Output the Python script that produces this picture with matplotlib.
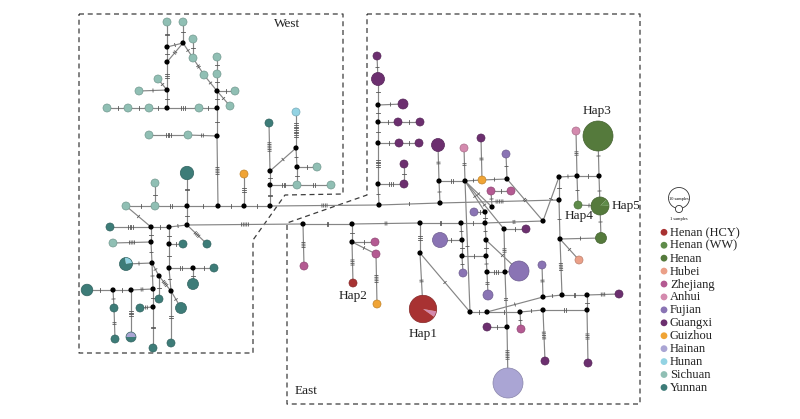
import numpy as np
import matplotlib.pyplot as plt
from matplotlib.patches import Circle, Wedge
from matplotlib.colors import to_rgb

plt.rcParams['font.family'] = ['Liberation Serif', 'DejaVu Serif']

# region colours (legend order)
legend_keys = ['HCY', 'WW', 'Henan', 'Hubei', 'Zhejiang', 'Anhui', 'Fujian',
               'Guangxi', 'Guizhou', 'Hainan', 'Hunan', 'Sichuan', 'Yunnan']
legend_names = ['Henan (HCY)', 'Henan (WW)', 'Henan', 'Hubei', 'Zhejiang', 'Anhui',
                'Fujian', 'Guangxi', 'Guizhou', 'Hainan', 'Hunan', 'Sichuan', 'Yunnan']
group_colors = {'HCY': '#a83232', 'WW': '#5f8c4a', 'Henan': '#557a3c', 'Hubei': '#eba088',
                'Zhejiang': '#b45a92', 'Anhui': '#d48aae', 'Fujian': '#8a74b4',
                'Guangxi': '#6c2f6f', 'Guizhou': '#f0a435', 'Hainan': '#aaa5d4',
                'Hunan': '#93d3e3', 'Sichuan': '#90bfb4', 'Yunnan': '#3d7c78'}

# haplotypes: id, x, y, radius, region (positions as laid out in the network)
west_haps = [
    ('w1', 167, 22, 4, 'Sichuan'), ('w2', 183, 22, 4, 'Sichuan'), ('w3', 193, 39, 4, 'Sichuan'),
    ('w4', 193, 58, 4, 'Sichuan'), ('w5', 217, 57, 4, 'Sichuan'), ('w6', 204, 75, 4, 'Sichuan'),
    ('w7', 217, 74, 4, 'Sichuan'), ('w8', 158, 79, 4, 'Sichuan'), ('w9', 139, 91, 4, 'Sichuan'),
    ('w10', 235, 91, 4, 'Sichuan'), ('w11', 230, 106, 4, 'Sichuan'), ('w12', 107, 108, 4, 'Sichuan'),
    ('w13', 128, 108, 4, 'Sichuan'), ('w14', 149, 108, 4, 'Sichuan'), ('w15', 199, 108, 4, 'Sichuan'),
    ('w16', 149, 135, 4, 'Sichuan'), ('w17', 188, 135, 4, 'Sichuan'), ('w18', 317, 167, 4, 'Sichuan'),
    ('w19', 297, 185, 4, 'Sichuan'), ('w20', 331, 185, 4, 'Sichuan'), ('w21', 296, 112, 4, 'Hunan'),
    ('w22', 269, 123, 4, 'Yunnan'), ('w23', 187, 173, 6.7, 'Yunnan'), ('w24', 244, 174, 4, 'Guizhou'),
    ('w25', 155, 183, 4, 'Sichuan'), ('w26', 126, 206, 4, 'Sichuan'), ('w27', 155, 206, 4, 'Sichuan'),
    ('w28', 110, 227, 4, 'Yunnan'), ('w29', 207, 244, 4, 'Yunnan'), ('w30', 113, 243, 4, 'Sichuan'),
    ('w31', 183, 244, 4, 'Yunnan'), ('w32', 126, 264, 6.5, 'Yunnan'), ('w33', 214, 268, 4, 'Yunnan'),
    ('w34', 193, 284, 5.5, 'Yunnan'), ('w35', 87, 290, 5.8, 'Yunnan'), ('w36', 181, 308, 5.5, 'Yunnan'),
    ('w37', 114, 308, 4, 'Yunnan'), ('w38', 140, 308, 4, 'Yunnan'), ('w39', 159, 299, 4, 'Yunnan'),
    ('w40', 115, 339, 4, 'Yunnan'), ('w41', 131, 337, 5, 'Yunnan'), ('w42', 153, 348, 4, 'Yunnan'),
    ('w43', 171, 343, 4, 'Yunnan'),
]
east_haps = [
    ('e1', 377, 56, 4, 'Guangxi'), ('e2', 378, 79, 6.5, 'Guangxi'), ('e3', 403, 104, 5, 'Guangxi'),
    ('e4', 398, 122, 4, 'Guangxi'), ('e5', 420, 122, 4, 'Guangxi'), ('e6', 399, 143, 4, 'Guangxi'),
    ('e7', 419, 143, 4, 'Guangxi'), ('e8', 404, 164, 4, 'Guangxi'), ('e9', 404, 184, 4, 'Guangxi'),
    ('e10', 438, 145, 6.5, 'Guangxi'), ('e11', 464, 148, 4, 'Anhui'), ('e12', 481, 138, 4, 'Guangxi'),
    ('e13', 506, 154, 4, 'Fujian'), ('e14', 482, 180, 4, 'Guizhou'), ('e15', 491, 191, 4, 'Zhejiang'),
    ('e16', 511, 191, 4, 'Zhejiang'), ('e17', 474, 212, 4, 'Fujian'), ('e18', 526, 229, 4, 'Guangxi'),
    ('e19', 440, 240, 7.5, 'Fujian'), ('e20', 463, 273, 4, 'Fujian'), ('e21', 519, 271, 10, 'Fujian'),
    ('e22', 542, 265, 4, 'Fujian'), ('e23', 488, 295, 5, 'Fujian'), ('e24', 423, 309, 13.7, 'HCY'),
    ('e25', 487, 327, 4, 'Guangxi'), ('e26', 521, 329, 4, 'Zhejiang'), ('e27', 508, 383, 15, 'Hainan'),
    ('e28', 545, 361, 4, 'Guangxi'), ('e29', 588, 363, 4, 'Guangxi'), ('e30', 619, 294, 4, 'Guangxi'),
    ('e31', 576, 131, 4, 'Anhui'), ('e32', 598, 136, 15, 'Henan'), ('e33', 578, 205, 4, 'WW'),
    ('e34', 600, 206, 9, 'Henan'), ('e35', 601, 238, 5.5, 'Henan'), ('e36', 579, 260, 4, 'Hubei'),
    ('e37', 304, 266, 4, 'Zhejiang'), ('e38', 375, 242, 4, 'Zhejiang'), ('e39', 376, 254, 4, 'Zhejiang'),
    ('e40', 353, 283, 4, 'HCY'), ('e41', 377, 304, 4, 'Guizhou'),
]
# mixed haplotypes: (region, share), start angle in degrees (clockwise from east)
pie_parts = {
    'w32': [('Hunan', 0.25), ('Yunnan', 0.75)],
    'w41': [('Hainan', 0.5), ('Yunnan', 0.5)],
    'e24': [('Anhui', 0.07), ('HCY', 0.93)],
    'e34': [('WW', 0.12), ('Henan', 0.88)],
}
pie_start = {'w32': -100, 'w41': 180, 'e24': 10, 'e34': -45}

median_vectors = [
    ('m1', 167, 47), ('m2', 183, 43), ('m3', 167, 62), ('m4', 167, 90), ('m5', 217, 91),
    ('m6', 167, 108), ('m7', 217, 108), ('m8', 217, 136), ('m9', 296, 148), ('m10', 270, 171),
    ('m11', 297, 167), ('m12', 270, 185), ('m13', 187, 206), ('m14', 218, 206), ('m15', 244, 206),
    ('m16', 270, 206), ('m17', 151, 227), ('m18', 169, 227), ('m19', 187, 225), ('m20', 151, 242),
    ('m21', 169, 244), ('m22', 152, 263), ('m23', 169, 268), ('m24', 193, 268), ('m25', 159, 276),
    ('m26', 113, 290), ('m27', 131, 290), ('m28', 153, 289), ('m29', 171, 291), ('m30', 153, 307),
    ('n1', 378, 105), ('n2', 378, 122), ('n3', 378, 143), ('n4', 378, 184), ('n5', 379, 205),
    ('n6', 439, 181), ('n7', 465, 181), ('n8', 507, 179), ('n9', 440, 203), ('n10', 492, 207),
    ('n11', 485, 212), ('n12', 543, 221), ('n13', 559, 177), ('n14', 577, 176), ('n15', 599, 176),
    ('n16', 559, 200), ('n17', 303, 224), ('n18', 352, 224), ('n19', 420, 223), ('n20', 461, 223),
    ('n21', 485, 223), ('n22', 504, 229), ('n23', 352, 242), ('n24', 462, 240), ('n25', 486, 240),
    ('n26', 420, 253), ('n27', 462, 256), ('n28', 486, 256), ('n29', 560, 239), ('n30', 487, 272),
    ('n31', 505, 272), ('n32', 543, 297), ('n33', 562, 295), ('n34', 587, 295), ('n35', 470, 312),
    ('n36', 487, 312), ('n37', 520, 312), ('n38', 543, 310), ('n39', 587, 310), ('n40', 507, 327),
]

# links: node, node, number of mutation ticks
edges = [
    ('w1', 'm1', 2), ('m1', 'm3', 1), ('m3', 'm4', 3), ('m4', 'm6', 1), ('w2', 'm2', 1),
    ('m1', 'm2', 1), ('m2', 'm3', 2), ('m2', 'w4', 1), ('w3', 'w4', 1), ('w4', 'w6', 2),
    ('w6', 'm5', 1), ('m5', 'w11', 1), ('w5', 'w7', 1), ('w7', 'm5', 1), ('m5', 'w10', 1),
    ('m5', 'm7', 1), ('m7', 'm8', 1), ('m8', 'm14', 5), ('w8', 'm4', 1), ('w9', 'm4', 1),
    ('w12', 'w13', 1), ('w13', 'w14', 1), ('w14', 'm6', 1), ('m6', 'w15', 3), ('w15', 'm7', 1),
    ('w16', 'w17', 4), ('w17', 'm8', 2), ('w21', 'm9', 9), ('m9', 'm10', 1), ('m9', 'm11', 1),
    ('m11', 'w18', 1), ('m11', 'w19', 1), ('w22', 'm10', 6), ('m10', 'm12', 1), ('m12', 'm16', 2),
    ('m12', 'w19', 3), ('w19', 'w20', 2), ('w23', 'm13', 2), ('w24', 'm15', 3), ('w25', 'w27', 1),
    ('w26', 'w27', 1), ('w27', 'm13', 2), ('m13', 'm14', 1), ('m14', 'm15', 1), ('m15', 'm16', 1),
    ('m16', 'n5', 4), ('w26', 'm17', 1), ('w28', 'm17', 4), ('m17', 'm18', 1), ('m18', 'm19', 1),
    ('m19', 'n17', 5), ('m13', 'm19', 1), ('m19', 'w29', 4), ('w30', 'm20', 4), ('m17', 'm20', 1),
    ('m20', 'm22', 1), ('m22', 'm28', 1), ('m28', 'm30', 1), ('m30', 'w42', 2), ('m18', 'm21', 1),
    ('m21', 'w31', 1), ('m21', 'm23', 1), ('m23', 'm29', 1), ('m29', 'w43', 2), ('m23', 'm24', 2),
    ('m24', 'w33', 1), ('m24', 'w34', 1), ('w32', 'm22', 1), ('m22', 'm25', 1), ('m25', 'm29', 4),
    ('m29', 'w36', 1), ('m25', 'w39', 1), ('w35', 'm26', 1), ('m26', 'm27', 1), ('m27', 'm28', 2),
    ('m26', 'w37', 1), ('w37', 'w40', 2), ('m27', 'w41', 4), ('w38', 'm30', 2),
    ('e1', 'e2', 1), ('e2', 'n1', 1), ('n1', 'n2', 1), ('n2', 'n3', 1), ('n3', 'n4', 5),
    ('n4', 'n5', 1), ('n1', 'e3', 1), ('n2', 'e4', 1), ('e4', 'e5', 1), ('n3', 'e6', 1),
    ('e6', 'e7', 1), ('e8', 'e9', 1), ('n4', 'e9', 3), ('n5', 'n9', 1), ('n9', 'n16', 5),
    ('e10', 'n6', 2), ('n6', 'n9', 1), ('n6', 'n7', 2), ('e11', 'n7', 2), ('n7', 'e14', 1),
    ('e14', 'n8', 1), ('e12', 'e14', 2), ('e13', 'n8', 1), ('n7', 'n35', 1), ('n7', 'n10', 1),
    ('n7', 'n11', 1), ('n7', 'n22', 1), ('n10', 'e15', 1), ('e15', 'e16', 1), ('n8', 'n12', 2),
    ('n12', 'n13', 1), ('n13', 'n14', 1), ('n14', 'n15', 1), ('e31', 'n14', 3), ('e32', 'n15', 1),
    ('n15', 'e34', 1), ('e34', 'e35', 1), ('n14', 'e33', 1), ('e33', 'e34', 1), ('n13', 'n16', 1),
    ('n16', 'n29', 1), ('n29', 'e35', 1), ('n29', 'e36', 1), ('n29', 'n33', 5), ('n17', 'n18', 2),
    ('n18', 'n19', 2), ('n19', 'n20', 2), ('n20', 'n21', 1), ('n21', 'n12', 2), ('n17', 'e37', 4),
    ('n18', 'n23', 1), ('n23', 'e40', 4), ('n23', 'e38', 1), ('n23', 'e39', 1), ('e39', 'e41', 5),
    ('n19', 'n26', 3), ('n26', 'e24', 2), ('n26', 'n35', 1), ('n20', 'n24', 1), ('n24', 'n27', 1),
    ('n27', 'e20', 1), ('e19', 'n24', 1), ('n11', 'n21', 1), ('e17', 'n11', 1), ('n21', 'n25', 1),
    ('n25', 'n28', 1), ('n28', 'n30', 1), ('n25', 'e21', 1), ('n27', 'n28', 1), ('n30', 'n31', 3),
    ('n31', 'e21', 1), ('n22', 'e18', 1), ('n22', 'n31', 3), ('n31', 'n40', 2), ('n40', 'e27', 6),
    ('e25', 'n40', 1), ('n30', 'e23', 2), ('n35', 'n36', 1), ('n36', 'n37', 1), ('n37', 'n38', 1),
    ('n38', 'n39', 2), ('n36', 'n32', 1), ('n32', 'e22', 2), ('n32', 'n33', 1), ('n33', 'n34', 2),
    ('n34', 'e30', 3), ('n37', 'e26', 1), ('n38', 'e28', 5), ('n39', 'e29', 4), ('n34', 'n39', 1),
]

hap_labels = [('Hap1', 'e24', 0, 25), ('Hap2', 'e40', 0, 13), ('Hap3', 'e32', -1, -25),
              ('Hap4', 'e33', 1, 11), ('Hap5', 'e34', 26, 0)]

west_box = [(79, 14), (343, 14), (343, 194), (285, 195), (253, 240), (253, 353), (79, 353), (79, 14)]
east_box = [(367, 14), (640, 14), (640, 404), (287, 404), (287, 223), (367, 195), (367, 14)]

pos = {}
for nid, x, y, r, g in west_haps + east_haps:
    pos[nid] = (x, y)
for nid, x, y in median_vectors:
    pos[nid] = (x, y)

fig = plt.figure(figsize=(8, 4.19), dpi=100)
ax = fig.add_axes([0, 0, 1, 1])
ax.set_xlim(0, 800)
ax.set_ylim(419, 0)
ax.axis('off')

# links with mutation ticks
for a, b, k in edges:
    (x1, y1), (x2, y2) = pos[a], pos[b]
    ax.plot([x1, x2], [y1, y2], color='#858585', lw=0.85, zorder=1)
    d = np.hypot(x2 - x1, y2 - y1)
    ux, uy = (x2 - x1) / d, (y2 - y1) / d
    mx, my = (x1 + x2) / 2, (y1 + y2) / 2
    for i in range(k):
        off = (i - (k - 1) / 2) * 1.7
        cx, cy = mx + ux * off, my + uy * off
        ax.plot([cx - uy * 1.6, cx + uy * 1.6], [cy + ux * 1.6, cy - ux * 1.6],
                color='#555555', lw=0.6, zorder=2)


def dark(c):
    return tuple(v * 0.8 for v in to_rgb(c))


for nid, x, y, r, g in west_haps + east_haps:
    if nid in pie_parts:
        ang = pie_start[nid]
        for grp, share in pie_parts[nid]:
            ax.add_patch(Wedge((x, y), r, ang, ang + share * 360, facecolor=group_colors[grp],
                               edgecolor='none', zorder=3))
            ang += share * 360
        ax.add_patch(Circle((x, y), r, facecolor='none', edgecolor=dark(group_colors[g]),
                            lw=0.5, zorder=4))
    else:
        ax.add_patch(Circle((x, y), r, facecolor=group_colors[g], edgecolor=dark(group_colors[g]),
                            lw=0.5, zorder=3))

for nid, x, y in median_vectors:
    ax.add_patch(Circle((x, y), 2.6, facecolor='black', edgecolor='none', zorder=3))

for pts in (west_box, east_box):
    xs, ys = zip(*pts)
    ax.plot(xs, ys, color='#3c3c3c', lw=0.9, ls=(0, (4, 3)), zorder=0)

ax.text(287, 24, 'West', fontsize=9.5, ha='center', va='center', color='#222222')
ax.text(295, 391, 'East', fontsize=9.5, ha='left', va='center', color='#222222')
for txt, nid, dx, dy in hap_labels:
    x, y = pos[nid]
    ax.text(x + dx, y + dy, txt, fontsize=9.5, ha='center', va='center', color='#222222', zorder=5)

# size legend
ax.add_patch(Circle((679, 198), 10.5, facecolor='white', edgecolor='#333333', lw=0.6))
ax.add_patch(Circle((679, 209), 3.6, facecolor='white', edgecolor='#333333', lw=0.6))
ax.text(679, 199, '10 samples', fontsize=3.2, ha='center', va='center')
ax.text(679, 219, '1 samples', fontsize=3.2, ha='center', va='center')

for i, (key, name) in enumerate(zip(legend_keys, legend_names)):
    y = 232.3 + i * 12.93
    ax.add_patch(Circle((664, y), 3.4, facecolor=group_colors[key], edgecolor='none'))
    ax.text(670, y + 0.5, name, fontsize=9, ha='left', va='center', color='#222222')

fig.savefig('out.png', dpi=100)
